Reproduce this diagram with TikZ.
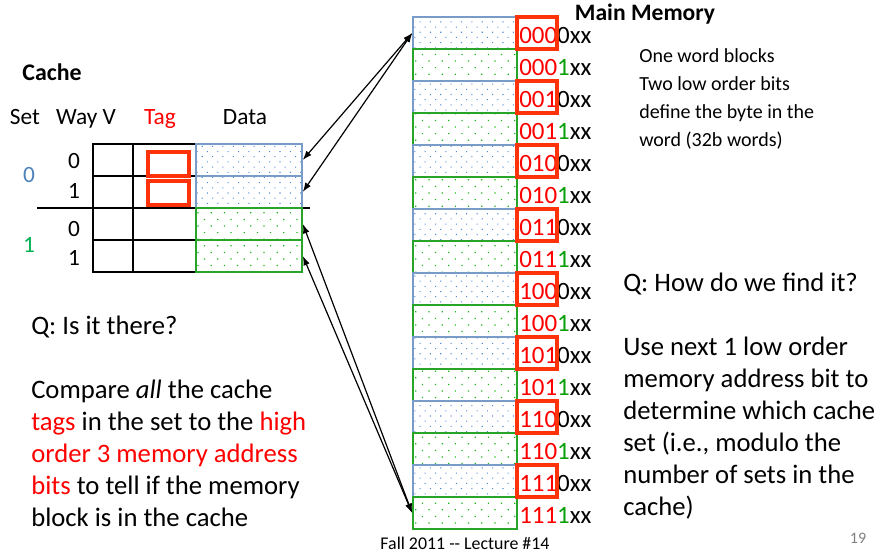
\documentclass[tikz,border=0pt]{standalone}
\usepackage{fontspec}
\setmainfont{Carlito}
\usetikzlibrary{arrows.meta}
\usetikzlibrary{patterns.meta}
\definecolor{memblue}{RGB}{120,155,200}
\definecolor{dotblue}{RGB}{80,135,215}
\definecolor{memgreen}{RGB}{40,165,40}
\definecolor{dotgreen}{RGB}{20,185,20}
\definecolor{tagred}{RGB}{255,50,10}
\definecolor{setblue}{RGB}{79,129,189}
\definecolor{setgreen}{RGB}{0,176,80}
\definecolor{bitgreen}{RGB}{10,160,10}
\tikzset{blueblk/.style={draw=memblue, line width=1.1pt,
  pattern={Dots[distance=5.5pt,angle=45,radius=0.55pt]}, pattern color=dotblue}}
\tikzset{greenblk/.style={draw=memgreen, line width=1.3pt,
  pattern={Dots[distance=7pt,angle=45,radius=0.65pt]}, pattern color=dotgreen}}
\tikzset{memrow/.style={inner sep=0pt, minimum width=78pt, minimum height=24pt}}
\tikzset{cellrow/.style={inner sep=0pt, minimum width=79.5pt, minimum height=24pt}}
\tikzset{tagbox/.style={draw=tagred, line width=2.3pt}}
\tikzset{addr/.style={anchor=west, inner sep=0pt, font=\fontsize{18.7}{20}\selectfont}}
\tikzset{lbl/.style={inner sep=0pt, font=\fontsize{17.5}{20}\selectfont}}
\tikzset{para/.style={inner sep=0pt, anchor=north west, align=left, font=\fontsize{20}{24}\selectfont}}
\tikzset{conn/.style={<->, line width=0.9pt}}

\begin{document}
\begin{tikzpicture}[x=0.75pt, y=-0.75pt, >={Latex[length=7pt,width=5pt]}]
  \useasboundingbox (0,0) rectangle (881,556);
  % main memory, one word per row
  \foreach \hi [count=\k from 0] in {000,001,010,011,100,101,110,111}{
    \pgfmathtruncatemacro\ra{2*\k}
    \pgfmathtruncatemacro\rb{2*\k+1}
    \node [memrow, blueblk] (m\ra) at (465, 33+64*\k) {};
    \node [memrow, greenblk] (m\rb) at (465, 65+64*\k) {};
    \node [addr] (a\ra) at (519, 35+64*\k) {\textcolor{red}{\hi}0xx};
    \node [addr] (a\rb) at (519, 67+64*\k) {\textcolor{red}{\hi}\textcolor{bitgreen}{1}xx};
    \draw [tagbox] (517, 17+64*\k) rectangle (557, 49+64*\k);
  }
  \node [lbl, font=\fontsize{17.7}{20}\selectfont\bfseries] (mm) at (645,14) {Main Memory};

  % cache table
  \draw [line width=2pt] (37,208) -- (310,208);
  \draw [line width=0.8pt] (93,144) rectangle (196,272);
  \draw [line width=0.8pt] (133,144) -- (133,272);
  \draw [line width=0.8pt] (93,176) -- (196,176);
  \draw [line width=0.8pt] (93,240) -- (196,240);
  \node [cellrow, blueblk] (d00) at (249,160) {};
  \node [cellrow, blueblk] (d01) at (249,192) {};
  \node [cellrow, greenblk] (d10) at (249,224) {};
  \node [cellrow, greenblk] (d11) at (249,256) {};
  \draw [tagbox] (148,152) rectangle (189,176);
  \draw [tagbox] (148,181) rectangle (189,205);

  \node [lbl, font=\fontsize{17.9}{20}\selectfont\bfseries] (cache) at (52,72) {Cache};
  \node [lbl, anchor=base] (hset) at (25,125) {Set};
  \node [lbl, anchor=base] (hway) at (86,125) {Way V};
  \node [lbl, anchor=base, text=red] (htag) at (160,125) {Tag};
  \node [lbl, anchor=base] (hdata) at (245,125) {Data};
  \node [lbl] (w00) at (74,161) {0};
  \node [lbl] (w01) at (74,191) {1};
  \node [lbl] (w10) at (74,229) {0};
  \node [lbl] (w11) at (74,258) {1};
  \node [lbl, text=setblue] (s0) at (29,175) {0};
  \node [lbl, text=setgreen] (s1) at (29,245) {1};

  % rows of memory that map to each set
  \draw [conn] (m0.west) -- (d00.east);
  \draw [conn] (m0.west) -- (d01.east);
  \draw [conn] (m15.west) -- (d10.east);
  \draw [conn] (m15.west) -- (d11.east);

  \node [para, font=\fontsize{15}{21}\selectfont] (note) at (639,48) {One word blocks\\Two low order bits\\define the byte in the\\word (32b words)};
  \node [para] (qleft) at (31,316) {Q: Is it there?\\[24pt]
    Compare \textit{all} the cache\\
    \textcolor{red}{tags} in the set to the \textcolor{red}{high}\\
    \textcolor{red}{order 3 memory address}\\
    \textcolor{red}{bits} to tell if the memory\\
    block is in the cache};
  \node [para] (qright) at (623,273) {Q: How do we find it?\\[24pt]
    Use next 1 low order\\
    memory address bit to\\
    determine which cache\\
    set (i.e., modulo the\\
    number of sets in the\\
    cache)};

  \node [lbl, font=\fontsize{13.4}{16}\selectfont] (foot) at (465,543) {Fall 2011 -{}- Lecture \#14};
  \node [lbl, font=\fontsize{12}{14}\selectfont, text=gray] (pg) at (858,538) {19};
\end{tikzpicture}
\end{document}
